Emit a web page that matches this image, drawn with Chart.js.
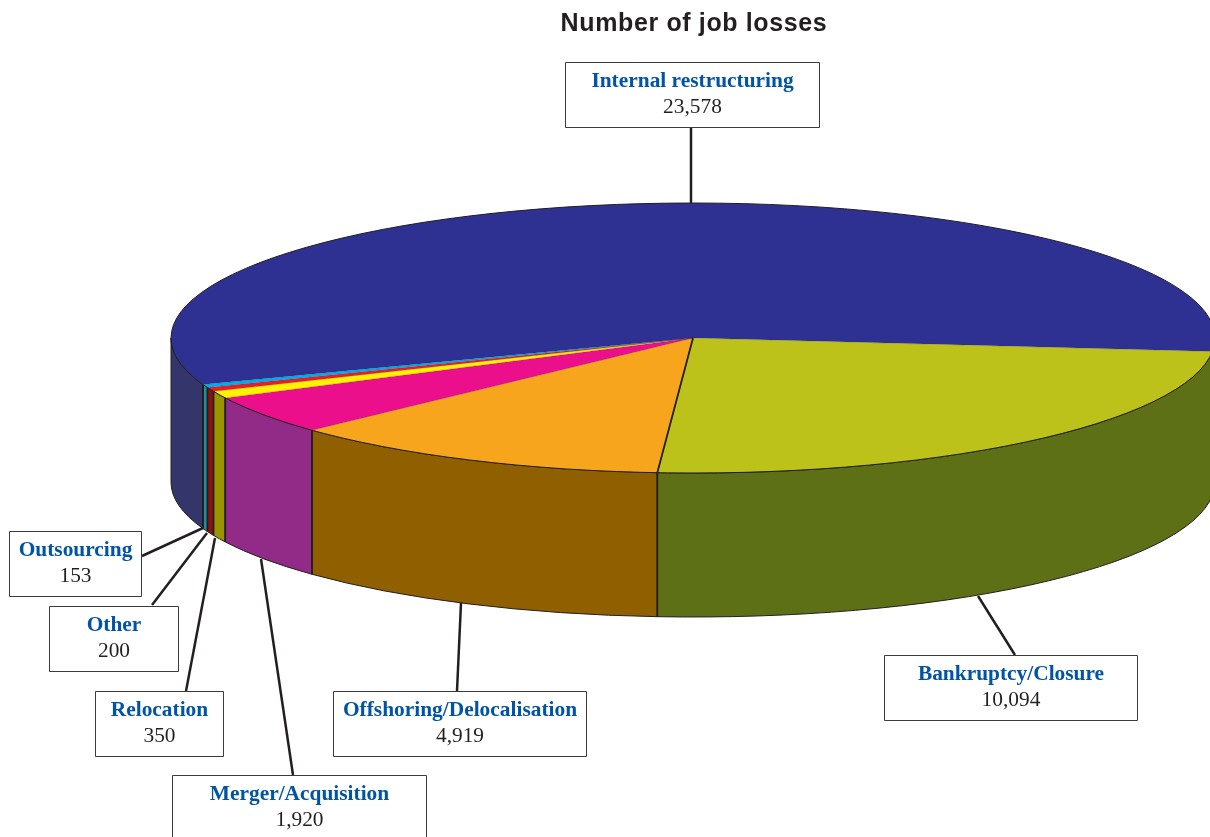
<!DOCTYPE html>
<html>
<head>
<meta charset="utf-8">
<title>Number of job losses</title>
<script src="https://cdn.jsdelivr.net/npm/chart.js@4/dist/chart.umd.js"></script>
<style>
  html, body { margin: 0; background: #fff; overflow: hidden; }
  /* the canvas is wider than the page so the title and pie centre sit right of the middle */
  #wrap { width: 1210px; height: 837px; overflow: hidden; }
  canvas { display: block; }
</style>
</head>
<body>
<div id="wrap"><canvas id="pie" width="1388" height="837"></canvas></div>
<script>
const categories = [
  "Internal restructuring",
  "Bankruptcy/Closure",
  "Offshoring/Delocalisation",
  "Merger/Acquisition",
  "Relocation",
  "Other",
  "Outsourcing",
];
const jobLosses = [23578, 10094, 4919, 1920, 350, 200, 153];
const valueLabels = ["23,578", "10,094", "4,919", "1,920", "350", "200", "153"];

const topColors = ["#2e3192", "#bcc21a", "#f7a51d", "#ec0f8c", "#fff200", "#ed1c24", "#00aeef"];
const wallColors = ["#34356b", "#5d7015", "#8f5f00", "#922a87", "#9c9300", "#8e1010", "#1d8f9e"];

// callout boxes: x, y, width, height
const boxes = [
  [565.5, 62.5, 254, 65],
  [884.5, 655.5, 253, 65],
  [333.5, 691.5, 253, 65],
  [172.5, 775.5, 254, 65],
  [95.5, 691.5, 128, 65],
  [49.5, 606.5, 129, 65],
  [9.5, 531.5, 132, 65],
];
// leader lines: from box to rim
const leaders = [
  [691, 128, 691, 203],
  [1015, 655, 978, 596],
  [457, 691, 461, 603],
  [293, 775, 261, 559],
  [186, 691, 215, 538],
  [152, 605, 207, 533],
  [142, 556, 203, 528],
];

// flattened pie geometry
const pieX = 693, pieY = 338, pieRx = 522, pieRy = 135, pieDepth = 144;
const ink = "#231f20";

function wallPiece(ctx, a0, a1, color) {
  ctx.beginPath();
  ctx.ellipse(pieX, pieY, pieRx, pieRy, 0, a0, a1);
  ctx.ellipse(pieX, pieY + pieDepth, pieRx, pieRy, 0, a1, a0, true);
  ctx.closePath();
  ctx.fillStyle = color;
  ctx.fill();
  ctx.strokeStyle = ink;
  ctx.lineWidth = 1;
  ctx.stroke();
}

const flatPie = {
  id: "flatPie",
  beforeDraw(chart) {
    // the title is set slightly open
    chart.ctx.letterSpacing = "0.63px";
  },
  beforeDatasetsDraw(chart) {
    const ctx = chart.ctx;
    ctx.letterSpacing = "0px";
    const arcs = chart.getDatasetMeta(0).data;
    // side wall, only the front half of the rim can be seen
    arcs.forEach((arc, i) => {
      for (const turn of [0, Math.PI * 2]) {
        const a0 = Math.max(arc.startAngle + turn, 0);
        const a1 = Math.min(arc.endAngle + turn, Math.PI);
        if (a1 > a0) wallPiece(ctx, a0, a1, wallColors[i]);
      }
    });
    // squash the library's round pie onto the top face
    const first = arcs[0];
    const sx = pieRx / first.outerRadius;
    const sy = pieRy / first.outerRadius;
    ctx.save();
    ctx.translate(pieX, pieY);
    ctx.scale(sx, sy);
    ctx.translate(-first.x, -first.y);
  },
  afterDatasetsDraw(chart) {
    const ctx = chart.ctx;
    const arcs = chart.getDatasetMeta(0).data;
    ctx.restore();
    ctx.lineJoin = "round";
    // rim of the top face
    ctx.strokeStyle = ink;
    ctx.lineWidth = 1;
    ctx.beginPath();
    ctx.ellipse(pieX, pieY, pieRx, pieRy, 0, 0, Math.PI * 2);
    ctx.stroke();
    // faint spokes between the slices
    ctx.strokeStyle = "rgba(35,31,32,0.35)";
    ctx.lineWidth = 0.6;
    arcs.forEach((arc) => {
      ctx.beginPath();
      ctx.moveTo(pieX, pieY);
      ctx.lineTo(pieX + pieRx * Math.cos(arc.endAngle), pieY + pieRy * Math.sin(arc.endAngle));
      ctx.stroke();
    });
    // darker seams down the wall
    ctx.strokeStyle = ink;
    ctx.lineWidth = 1.8;
    arcs.forEach((arc, i) => {
      const a = arc.endAngle % (Math.PI * 2);
      if (a <= 0 || a >= Math.PI) return;
      const x = pieX + pieRx * Math.cos(a);
      const y = pieY + pieRy * Math.sin(a);
      ctx.beginPath();
      // the largest front slice also has its spoke inked
      ctx.moveTo(i === 1 ? pieX : x, i === 1 ? pieY : y);
      ctx.lineTo(x, y);
      ctx.lineTo(x, y + pieDepth);
      ctx.stroke();
    });
  },
  afterDraw(chart) {
    const ctx = chart.ctx;
    ctx.save();
    ctx.strokeStyle = ink;
    ctx.lineWidth = 2.5;
    leaders.forEach((l) => {
      ctx.beginPath();
      ctx.moveTo(l[0], l[1]);
      ctx.lineTo(l[2], l[3]);
      ctx.stroke();
    });
    ctx.textAlign = "center";
    ctx.textBaseline = "alphabetic";
    boxes.forEach((b, i) => {
      ctx.fillStyle = "#fff";
      ctx.fillRect(b[0], b[1], b[2], b[3]);
      ctx.strokeStyle = "#3c3a3b";
      ctx.lineWidth = 1;
      ctx.strokeRect(b[0], b[1], b[2], b[3]);
      const mid = b[0] + b[2] / 2;
      ctx.font = 'bold 21.4px "Liberation Serif"';
      ctx.fillStyle = "#0054a6";
      ctx.fillText(categories[i], mid, b[1] + 24.5);
      ctx.font = '21.4px "Liberation Serif"';
      ctx.fillStyle = ink;
      ctx.fillText(valueLabels[i], mid, b[1] + 50.5);
    });
    ctx.restore();
  },
};

new Chart(document.getElementById("pie"), {
  type: "pie",
  data: {
    labels: categories,
    datasets: [
      {
        data: jobLosses,
        backgroundColor: topColors,
        borderWidth: 0,
        hoverOffset: 0,
      },
    ],
  },
  options: {
    responsive: false,
    animation: false,
    rotation: -110.2,
    events: [],
    plugins: {
      legend: { display: false },
      tooltip: { enabled: false },
      title: {
        display: true,
        text: "Number of job losses",
        color: ink,
        font: { family: '"Liberation Sans"', size: 25, weight: "bold" },
        padding: { top: 9, bottom: 8 },
      },
    },
  },
  plugins: [flatPie],
});
</script>
</body>
</html>
